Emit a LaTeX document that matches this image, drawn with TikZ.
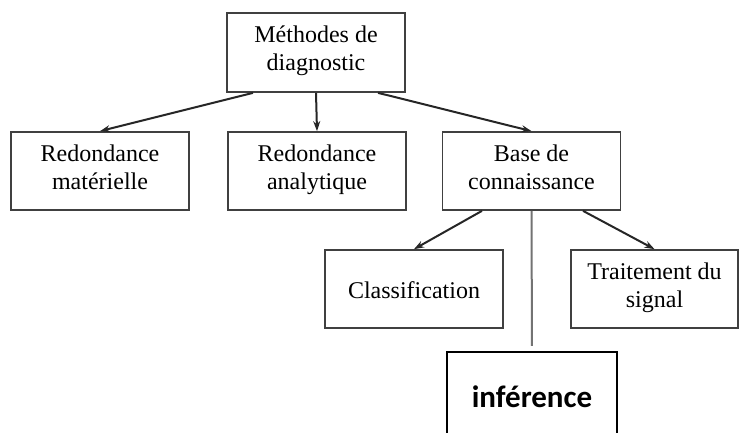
\documentclass[tikz,border=0pt]{standalone}
\usepackage{fontspec}
\setmainfont{Liberation Serif}
\newfontfamily\calibrifont{Carlito}
\usepackage{xcolor}
\usepackage{tikz}
\usetikzlibrary{shapes.geometric, arrows.meta, positioning}

\begin{document}
\begin{tikzpicture}[
    x=1pt, y=-1pt,
    box/.style={rectangle, draw=black!75, line width=1.7pt, minimum width=178pt, minimum height=78pt, align=center, inner sep=0pt, font=\fontsize{24}{28}\selectfont, execute at begin node={\rule{0pt}{27pt}}, execute at end node=\strut},
    bigbox/.style={rectangle, draw=black, line width=2.2pt, minimum width=170pt, minimum height=90pt, inner sep=0pt, font=\calibrifont\bfseries\fontsize{31}{36}\selectfont},
    arrow/.style={-{Stealth[length=10pt, width=7pt]}, line width=2pt, black!85},
    link/.style={line width=2pt, black!55}
]
\useasboundingbox (0,0) rectangle (739,433);

% Nodes
\node[box, minimum height=79pt] (methodes) at (316,52.5) {Méthodes de\\diagnostic};
\node[box] (materielle) at (100,171) {Redondance\\matérielle};
\node[box] (analytique) at (317,171) {Redondance\\analytique};
\node[box] (base) at (531.5,171) {Base de\\connaissance};
\node[box] (classif) at (414,289) {Classification};
\node[box, minimum width=167pt] (signal) at (654.5,289) {Traitement du\\signal};
\node[bigbox] (inference) at (532,397) {inférence};

% Arrows
\draw[arrow] ([xshift=-63pt]methodes.south) -- (materielle.north);
\draw[arrow] (methodes.south) -- (analytique.north);
\draw[arrow] ([xshift=62pt]methodes.south) -- (base.north);
\draw[arrow] ([xshift=-49.5pt]base.south) -- (classif.north);
\draw[arrow] ([xshift=51.5pt]base.south) -- (signal.north);
\draw[link, shorten >=5pt] (base.south) -- (inference.north);

\end{tikzpicture}
\end{document}
